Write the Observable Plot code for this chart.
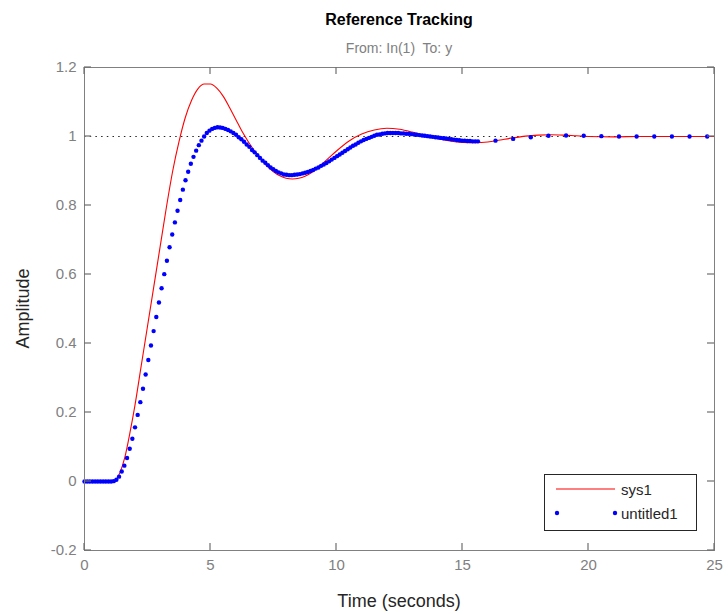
<!DOCTYPE html>
<html><head><meta charset="utf-8">
<script src="https://cdn.jsdelivr.net/npm/d3@7"></script>
<script src="https://cdn.jsdelivr.net/npm/@observablehq/plot@0.6"></script>
<style>body{margin:0;background:#fff}</style>
</head><body><div id="chart"></div>
<script>
const title = "Reference Tracking";
const subtitle = "From: In(1)  To: y";
const xLabel = "Time (seconds)";
const yLabel = "Amplitude";
const seriesNames = ["sys1", "untitled1"];
const xTicks = [0, 5, 10, 15, 20, 25];
const yTicks = [-0.2, 0, 0.2, 0.4, 0.6, 0.8, 1, 1.2];
const refLevel = 1;

// sys1 (red line)
const redT = [0, 1.0, 1.2, 1.4, 1.6, 1.8, 2.0, 2.25, 2.5, 2.75, 3.0, 3.25, 3.5, 3.75, 4.0, 4.25, 4.5, 4.75, 5.0, 5.25, 5.5, 5.75, 6.0, 6.25, 6.5, 6.75, 7.0, 7.25, 7.5, 7.75, 8.0, 8.25, 8.5, 8.75, 9.0, 9.5, 10.0, 10.5, 11.0, 11.5, 12.0, 12.5, 13.0, 13.5, 14.0, 14.5, 15.0, 15.5, 16.0, 16.5, 17.0, 17.5, 18.0, 18.5, 19.0, 19.5, 20.0, 21.0, 22.0, 25.0];
const redY = [0, 0, 0.002, 0.025, 0.07, 0.14, 0.22, 0.335, 0.45, 0.565, 0.68, 0.795, 0.90, 0.985, 1.055, 1.105, 1.138, 1.152, 1.152, 1.14, 1.117, 1.085, 1.05, 1.015, 0.985, 0.958, 0.935, 0.914, 0.898, 0.886, 0.879, 0.877, 0.879, 0.885, 0.895, 0.925, 0.958, 0.987, 1.007, 1.019, 1.024, 1.021, 1.013, 1.003, 0.994, 0.987, 0.983, 0.982, 0.984, 0.99, 0.996, 1.001, 1.004, 1.005, 1.004, 1.002, 1.0, 0.999, 1.0, 1.0];

// untitled1 (blue dots): dense samples every blueStep seconds, then sparse samples
const blueStep = 0.1055;
const blueDenseY = [
  0, 0, 0, 0, 0, 0, 0, 0, 0, 0,
  0, 0.001, 0.005, 0.014, 0.029, 0.046, 0.068, 0.095, 0.124, 0.157,
  0.193, 0.230, 0.269, 0.310, 0.352, 0.394, 0.436, 0.477, 0.519, 0.560,
  0.601, 0.640, 0.679, 0.716, 0.751, 0.785, 0.816, 0.846, 0.873, 0.898,
  0.921, 0.941, 0.959, 0.975, 0.988, 1.000, 1.010, 1.017, 1.022, 1.025,
  1.027, 1.026, 1.025, 1.022, 1.019, 1.015, 1.010, 1.005, 0.998, 0.992,
  0.985, 0.977, 0.970, 0.961, 0.954, 0.946, 0.938, 0.930, 0.924, 0.917,
  0.910, 0.905, 0.900, 0.896, 0.893, 0.890, 0.889, 0.888, 0.888, 0.889,
  0.890, 0.891, 0.893, 0.895, 0.897, 0.900, 0.903, 0.907, 0.910, 0.915,
  0.919, 0.923, 0.928, 0.933, 0.938, 0.943, 0.948, 0.953, 0.958, 0.963,
  0.968, 0.973, 0.977, 0.982, 0.986, 0.990, 0.993, 0.996, 0.999, 1.002,
  1.005, 1.006, 1.008, 1.009, 1.010, 1.010, 1.010, 1.010, 1.010, 1.009,
  1.009, 1.008, 1.008, 1.007, 1.006, 1.005, 1.004, 1.003, 1.002, 1.001,
  1.000, 0.999, 0.998, 0.997, 0.996, 0.995, 0.994, 0.993, 0.992, 0.991,
  0.990, 0.989, 0.988, 0.988, 0.987, 0.987, 0.986, 0.986, 0.986
];
const blueSparseT = [16.31, 17.01, 17.71, 18.41, 19.11, 19.81, 20.51, 21.21, 21.91, 22.61, 23.31, 24.01, 24.71];
const blueSparseY = [0.988, 0.993, 0.998, 1.002, 1.003, 1.002, 1.001, 1.000, 1.000, 1.000, 1.000, 1.000, 1.000];

const red = redT.map((t, i) => ({t, v: redY[i]}));
const blue = blueDenseY.map((v, i) => ({t: i * blueStep, v}))
  .concat(blueSparseT.map((t, i) => ({t, v: blueSparseY[i]})));

const font = "'Liberation Sans', Arial, Helvetica, sans-serif";
const axisColor = "#808080";
const tickColor = "#6e6e6e";
const W = 728, H = 614, mL = 84, mR = 14, mT = 67, mB = 64;
const tickLen = 7;
const frameW = W - mL - mR, frameH = H - mT - mB;

const plot = Plot.plot({
  width: W, height: H,
  marginLeft: mL, marginRight: mR, marginTop: mT, marginBottom: mB,
  style: {fontFamily: font, background: "#fff", overflow: "visible"},
  x: {domain: [0, 25], label: null},
  y: {domain: [-0.2, 1.2], label: null},
  marks: [
    Plot.ruleY([refLevel], {stroke: "#262626", strokeDasharray: "1.5,4.2", strokeWidth: 1}),
    Plot.line(red, {x: "t", y: "v", stroke: "#ff0000", strokeWidth: 1.1, curve: "monotone-x"}),
    Plot.dot(blue, {x: "t", y: "v", r: 2.2, fill: "#0000ff", stroke: null}),
    Plot.frame({stroke: axisColor, strokeWidth: 1}),
    Plot.axisX(xTicks, {anchor: "bottom", tickSize: 0, tickPadding: 9, fontSize: 15, fill: axisColor, label: null, tickFormat: d => `${d}`}),
    Plot.axisY(yTicks, {anchor: "left", tickSize: 0, tickPadding: 8, fontSize: 15, fill: axisColor, label: null, tickFormat: d => `${d}`})
  ]
});

const svg = d3.select(plot);
const xs = plot.scale("x"), ys = plot.scale("y");
const fTop = mT, fBottom = H - mB, fLeft = mL, fRight = W - mR;

// inward tick marks on all four sides, positioned with Plot's own scales
const tg = svg.append("g").attr("stroke", tickColor).attr("stroke-width", 1.2).attr("fill", "none");
xTicks.forEach(v => {
  const px = xs.apply(v);
  tg.append("path").attr("d", `M${px},${fBottom}V${fBottom - tickLen}`);
  tg.append("path").attr("d", `M${px},${fTop}V${fTop + tickLen}`);
});
yTicks.forEach(v => {
  const py = ys.apply(v);
  tg.append("path").attr("d", `M${fLeft},${py}H${fLeft + tickLen}`);
  tg.append("path").attr("d", `M${fRight},${py}H${fRight - tickLen}`);
});

const cx = mL + frameW / 2;
svg.append("text").attr("x", cx).attr("y", 25).attr("text-anchor", "middle")
  .attr("font-family", font).attr("font-size", 16).attr("font-weight", "bold").attr("fill", "#000").text(title);
svg.append("text").attr("x", cx).attr("y", 53).attr("text-anchor", "middle")
  .attr("font-family", font).attr("font-size", 14).attr("fill", axisColor).text(subtitle);
svg.append("text").attr("x", cx).attr("y", 607).attr("text-anchor", "middle")
  .attr("font-family", font).attr("font-size", 18).attr("fill", "#262626").text(xLabel);
svg.append("text").attr("transform", `translate(29,${mT + frameH / 2}) rotate(-90)`).attr("text-anchor", "middle")
  .attr("font-family", font).attr("font-size", 18).attr("fill", "#262626").text(yLabel);

// legend
const lg = svg.append("g").attr("text-anchor", "start");
lg.append("rect").attr("x", 544.5).attr("y", 474.5).attr("width", 152).attr("height", 56)
  .attr("fill", "#fff").attr("stroke", "#262626").attr("stroke-width", 1);
lg.append("line").attr("x1", 556).attr("x2", 615).attr("y1", 489).attr("y2", 489)
  .attr("stroke", "#ff0000").attr("stroke-width", 1.1);
lg.append("text").attr("x", 621).attr("y", 494.5).attr("text-anchor", "start").attr("font-family", font).attr("font-size", 15)
  .attr("fill", "#262626").text(seriesNames[0]);
[557, 615].forEach(x => lg.append("circle").attr("cx", x).attr("cy", 513).attr("r", 2.2).attr("fill", "#0000ff"));
lg.append("text").attr("x", 621).attr("y", 518.5).attr("text-anchor", "start").attr("font-family", font).attr("font-size", 15)
  .attr("fill", "#262626").text(seriesNames[1]);

document.getElementById("chart").appendChild(plot);
</script>
</body></html>
